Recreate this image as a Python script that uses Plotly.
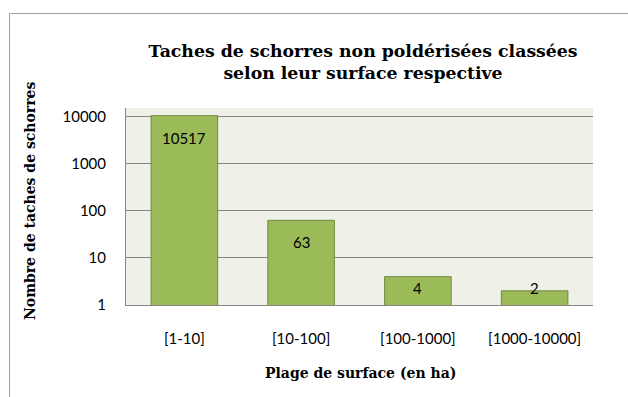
import math
import plotly.graph_objects as go

categories = ["[1-10]", "[10-100]", "[100-1000]", "[1000-10000]"]
counts = [10517, 63, 4, 2]
y_ticks = [1, 10, 100, 1000, 10000]

title_text = "Taches de schorres non poldérisées classées<br>selon leur surface respective"
x_title = "Plage de surface (en ha)"
y_title = "Nombre de taches de schorres"

W, H = 628, 397
M_L, M_R, M_T, M_B = 126, 35, 108, 92
PW, PH = W - M_L - M_R, H - M_T - M_B
Y_MAX = 4.185
px_per_decade = PH / Y_MAX

label_font = dict(family="Lato, Open Sans, sans-serif", size=15, color="#000000")
serif_bold = "DejaVu Serif, Liberation Serif, serif"


def px_to_paper(px, py):
    """Convert figure pixel coordinates to plot-area (paper) fractions."""
    return (px - M_L) / PW, (H - M_B - py) / PH


fig = go.Figure()
fig.add_trace(go.Bar(
    x=categories,
    y=counts,
    width=0.57,
    marker=dict(color="#9BBB59", line=dict(color="#71893F", width=1)),
    hoverinfo="x+y",
))

# value labels sit just inside the top of each bar, kept clear of the axis
for cat, v in zip(categories, counts):
    top_px = math.log10(v) * px_per_decade
    drop = min(22, top_px - 17)
    fig.add_annotation(
        x=cat, y=math.log10(v), xref="x", yref="y",
        text=str(v), showarrow=False, yshift=-drop,
        font=label_font,
    )

# axis titles placed as free text
yx, yy = px_to_paper(30, 201)
fig.add_annotation(
    x=yx, y=yy, xref="paper", yref="paper",
    xanchor="center", yanchor="middle", textangle=-90,
    text=y_title, showarrow=False,
    font=dict(family=serif_bold, size=14, color="#000000", weight="bold"),
)
xx, xy = px_to_paper(360, 373)
fig.add_annotation(
    x=xx, y=xy, xref="paper", yref="paper",
    xanchor="center", yanchor="middle",
    text=x_title, showarrow=False,
    font=dict(family=serif_bold, size=14, color="#000000", weight="bold"),
)

fx0, fy1 = px_to_paper(9.5, 13.5)
fx1, fy0 = px_to_paper(W + 20, H + 20)

fig.update_layout(
    width=W, height=H,
    margin=dict(l=M_L, r=M_R, t=M_T, b=M_B),
    paper_bgcolor="white",
    plot_bgcolor="#EFF1E9",
    showlegend=False,
    bargap=0.43,
    title=dict(
        text=title_text,
        x=363 / W, xanchor="center",
        y=1 - 57 / H, yanchor="middle",
        font=dict(family=serif_bold, size=17.3, color="#000000", weight="bold"),
    ),
    xaxis=dict(
        showgrid=False,
        showline=True, linecolor="#868686", linewidth=1,
        ticks="", tickfont=label_font,
        ticklabelstandoff=20,
    ),
    yaxis=dict(
        type="log",
        range=[0, Y_MAX],
        tickvals=y_ticks,
        ticktext=[str(t) for t in y_ticks],
        showgrid=True, gridcolor="#868686", gridwidth=1,
        showline=True, linecolor="#868686", linewidth=1,
        ticks="", ticklabelstandoff=16,
        tickfont=label_font,
        zeroline=False,
    ),
    shapes=[dict(
        type="rect", xref="paper", yref="paper",
        x0=fx0, x1=fx1, y0=fy0, y1=fy1,
        line=dict(color="#A0A0A0", width=1),
        layer="below",
    )],
)

fig.write_html("out.html")
